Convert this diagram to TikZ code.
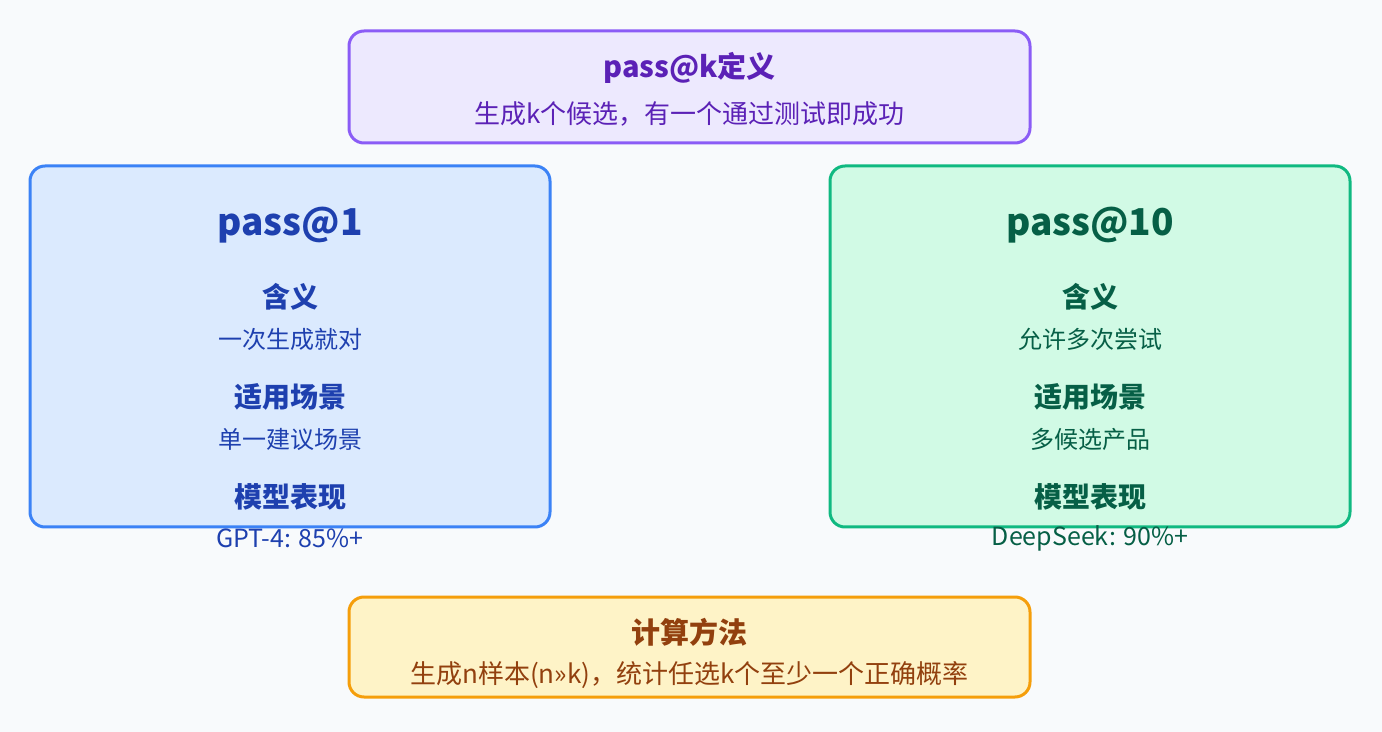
\documentclass[tikz,border=0pt]{standalone}
\usepackage{fontspec}
\setmainfont{Noto Sans CJK SC}
\usepackage{xcolor}
\definecolor{pagebg}{HTML}{F8FAFC}
\definecolor{defline}{HTML}{8B5CF6}
\definecolor{deffill}{HTML}{EDE9FE}
\definecolor{deftext}{HTML}{5B21B6}
\definecolor{oneline}{HTML}{3B82F6}
\definecolor{onefill}{HTML}{DBEAFE}
\definecolor{onetext}{HTML}{1E40AF}
\definecolor{tenline}{HTML}{10B981}
\definecolor{tenfill}{HTML}{D1FAE5}
\definecolor{tentext}{HTML}{065F46}
\definecolor{calcline}{HTML}{F59E0B}
\definecolor{calcfill}{HTML}{FEF3C7}
\definecolor{calctext}{HTML}{92400E}
\usepackage{tikz}
\usetikzlibrary{positioning}

\begin{document}
\begin{tikzpicture}[x=0.5pt, y=-0.5pt,
    panel/.style={rounded corners=7.5pt, line width=1.5pt, inner sep=0pt},
    wide/.style={panel, minimum width=340.5pt, minimum height=56pt},
    tall/.style={panel, minimum width=260pt, minimum height=180.5pt},
    title/.style={font=\fontsize{14.5}{17}\selectfont\bfseries},
    big/.style={font=\fontsize{18.5}{22}\selectfont\bfseries},
    head/.style={font=\fontsize{14}{16}\selectfont\bfseries},
    body/.style={font=\fontsize{12}{14}\selectfont},
    note/.style={font=\fontsize{13}{15}\selectfont},
    value/.style={font=\fontsize{12.5}{15}\selectfont}]
  \fill[pagebg] (0,0) rectangle (1382,732);
  % definition on top
  \node[wide, draw=defline, fill=deffill] (def) at (689.5,87) {};
  \node[title, text=deftext] (deftitle) at (689.5,68) {pass@k定义};
  \node[note, text=deftext] (defsub) at (689.5,114) {生成k个候选，有一个通过测试即成功};
  % pass@1
  \node[tall, draw=oneline, fill=onefill] (one) at (290,346.5) {};
  \node[big, text=onetext] (onetitle) at (290,225) {pass@1};
  \node[head, text=onetext] (onemean) at (290,297) {含义};
  \node[body, text=onetext] (onemeantxt) at (290,339) {一次生成就对};
  \node[head, text=onetext] (oneuse) at (290,397) {适用场景};
  \node[body, text=onetext] (oneusetxt) at (290,439) {单一建议场景};
  \node[head, text=onetext] (oneperf) at (290,497) {模型表现};
  \node[value, text=onetext] (oneperftxt) at (290,538) {GPT-4: 85\%+};
  % pass@10
  \node[tall, draw=tenline, fill=tenfill] (ten) at (1090,346.5) {};
  \node[big, text=tentext] (tentitle) at (1090,225) {pass@10};
  \node[head, text=tentext] (tenmean) at (1090,297) {含义};
  \node[body, text=tentext] (tenmeantxt) at (1090,339) {允许多次尝试};
  \node[head, text=tentext] (tenuse) at (1090,397) {适用场景};
  \node[body, text=tentext] (tenusetxt) at (1090,439) {多候选产品};
  \node[head, text=tentext] (tenperf) at (1090,497) {模型表现};
  \node[value, text=tentext] (tenperftxt) at (1090,538) {DeepSeek: 90\%+};
  % calculation at the bottom
  \node[wide, draw=calcline, fill=calcfill, minimum height=50pt] (calc) at (689.5,647) {};
  \node[title, text=calctext] (calctitle) at (689.5,632) {计算方法};
  \node[note, text=calctext] (calcsub) at (689.5,675) {生成n样本(n»k)，统计任选k个至少一个正确概率};
\end{tikzpicture}
\end{document}
